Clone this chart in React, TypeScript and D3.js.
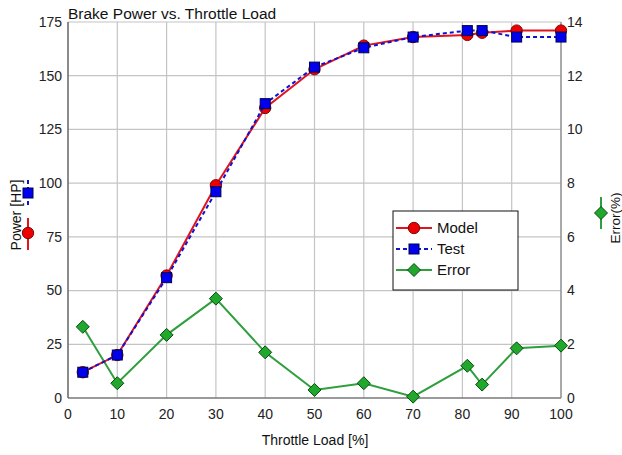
import React from "react";
import * as d3 from "d3";

const loads = [3, 10, 20, 30, 40, 50, 60, 70, 81, 84, 91, 100];
const modelPower = [12, 20, 57, 99, 135, 153, 164, 168, 169, 170, 171, 171];
const testPower = [12, 20, 56, 96, 137, 154, 163, 168, 171, 171, 168, 168];
const errorPct = [2.65, 0.55, 2.35, 3.7, 1.7, 0.3, 0.55, 0.05, 1.2, 0.5, 1.85, 1.95];
const xTicks = [0, 10, 20, 30, 40, 50, 60, 70, 80, 90, 100];
const leftTicks = [0, 25, 50, 75, 100, 125, 150, 175];
const rightTicks = [0, 2, 4, 6, 8, 10, 12, 14];
const legendItems = ["Model", "Test", "Error"];

const RED = "#e0141c";
const BLUE = "#1010d0";
const GREEN = "#2f9e3c";
const FONT = "'Liberation Sans', Arial, sans-serif";

function Circle({ x, y }: { x: number; y: number }) {
  return <circle cx={x} cy={y} r={5.7} fill="#ee0000" stroke="#7a0a0a" strokeWidth={1} />;
}
function Square({ x, y }: { x: number; y: number }) {
  return <rect x={x - 5} y={y - 5} width={10} height={10} fill="#0000ee" stroke="#000050" strokeWidth={1} />;
}
function Diamond({ x, y }: { x: number; y: number }) {
  const s = 6.5;
  return (
    <path
      d={`M${x},${y - s}L${x + s},${y}L${x},${y + s}L${x - s},${y}Z`}
      fill="#1fa82c"
      stroke="#0b4a12"
      strokeWidth={1}
    />
  );
}

export default function App() {
  const W = 622, H = 455;
  const x = d3.scaleLinear().domain([0, 100]).range([68, 561]);
  const yL = d3.scaleLinear().domain([0, 175]).range([398, 22]);
  const yR = d3.scaleLinear().domain([0, 14]).range([398, 22]);

  const lineL = d3.line<number>().x((_, i) => x(loads[i])).y((d) => yL(d));
  const lineR = d3.line<number>().x((_, i) => x(loads[i])).y((d) => yR(d));

  return (
    <svg width={W} height={H} style={{ position: "absolute", left: 0, top: 0, background: "#fff" }} fontFamily={FONT}>
      <rect width={W} height={H} fill="#fff" />
      {/* grid */}
      {xTicks.map((t) => (
        <line key={"gx" + t} x1={x(t)} x2={x(t)} y1={yL(175)} y2={yL(0)} stroke="#c4c4c4" strokeWidth={1.2} />
      ))}
      {leftTicks.map((t) => (
        <line key={"gy" + t} x1={x(0)} x2={x(100)} y1={yL(t)} y2={yL(t)} stroke="#c4c4c4" strokeWidth={1.2} />
      ))}
      {/* axes */}
      <line x1={x(0)} x2={x(0)} y1={yL(175)} y2={yL(0)} stroke="#555" strokeWidth={1.2} />
      <line x1={x(0)} x2={x(100)} y1={yL(0)} y2={yL(0)} stroke="#555" strokeWidth={1.2} />
      <line x1={x(100)} x2={x(100)} y1={yL(175)} y2={yL(0)} stroke="#888" strokeWidth={1.2} />
      {/* tick labels */}
      {leftTicks.map((t) => (
        <text key={"lt" + t} x={62} y={yL(t)} dy="0.35em" textAnchor="end" fontSize={14} fill="#222">
          {t}
        </text>
      ))}
      {rightTicks.map((t) => (
        <text key={"rt" + t} x={567} y={yR(t)} dy="0.35em" textAnchor="start" fontSize={14} fill="#222">
          {t}
        </text>
      ))}
      {xTicks.map((t) => (
        <text key={"xt" + t} x={x(t)} y={414} dy="0.35em" textAnchor="middle" fontSize={14} fill="#222">
          {t}
        </text>
      ))}
      {/* title and labels */}
      <text x={68} y={19} fontSize={15.5} fill="#111">Brake Power vs. Throttle Load</text>
      <text x={315} y={445} textAnchor="middle" fontSize={14} fill="#111">Throttle Load [%]</text>
      <text transform="translate(21,215) rotate(-90)" textAnchor="middle" fontSize={14} fill="#111">Power [HP]</text>
      <line x1={28} x2={28} y1={180} y2={206} stroke={BLUE} strokeWidth={2} strokeDasharray="4,3" />
      <Square x={28} y={193} />
      <line x1={28} x2={28} y1={218} y2={250} stroke={RED} strokeWidth={2} />
      <Circle x={28} y={233} />
      <line x1={601} x2={601} y1={197} y2={229} stroke={GREEN} strokeWidth={2} />
      <Diamond x={601} y={213} />
      <text transform="translate(619.5,218) rotate(-90)" textAnchor="middle" fontSize={13.5} fill="#111">Error(%)</text>
      {/* series */}
      <path d={lineR(errorPct) || ""} fill="none" stroke={GREEN} strokeWidth={2} />
      {errorPct.map((d, i) => (
        <Diamond key={"e" + i} x={x(loads[i])} y={yR(d)} />
      ))}
      <path d={lineL(modelPower) || ""} fill="none" stroke={RED} strokeWidth={2} />
      {modelPower.map((d, i) => (
        <Circle key={"m" + i} x={x(loads[i])} y={yL(d)} />
      ))}
      <path d={lineL(testPower) || ""} fill="none" stroke={BLUE} strokeWidth={2} strokeDasharray="4,3" />
      {testPower.map((d, i) => (
        <Square key={"t" + i} x={x(loads[i])} y={yL(d)} />
      ))}
      {/* legend */}
      <rect x={393} y={211} width={125} height={79} fill="#fff" stroke="#111" strokeWidth={1} />
      {legendItems.map((name, i) => {
        const ly = 228 + i * 21;
        return (
          <g key={name}>
            {i === 0 && <line x1={396} x2={432} y1={ly} y2={ly} stroke={RED} strokeWidth={2} />}
            {i === 1 && <line x1={396} x2={432} y1={ly} y2={ly} stroke={BLUE} strokeWidth={2} strokeDasharray="4,3" />}
            {i === 2 && <line x1={396} x2={432} y1={ly} y2={ly} stroke={GREEN} strokeWidth={2} />}
            {i === 0 && <Circle x={414} y={ly} />}
            {i === 1 && <Square x={414} y={ly} />}
            {i === 2 && <Diamond x={414} y={ly} />}
            <text x={437} y={ly} dy="0.35em" fontSize={15} fill="#111">{name}</text>
          </g>
        );
      })}
    </svg>
  );
}
